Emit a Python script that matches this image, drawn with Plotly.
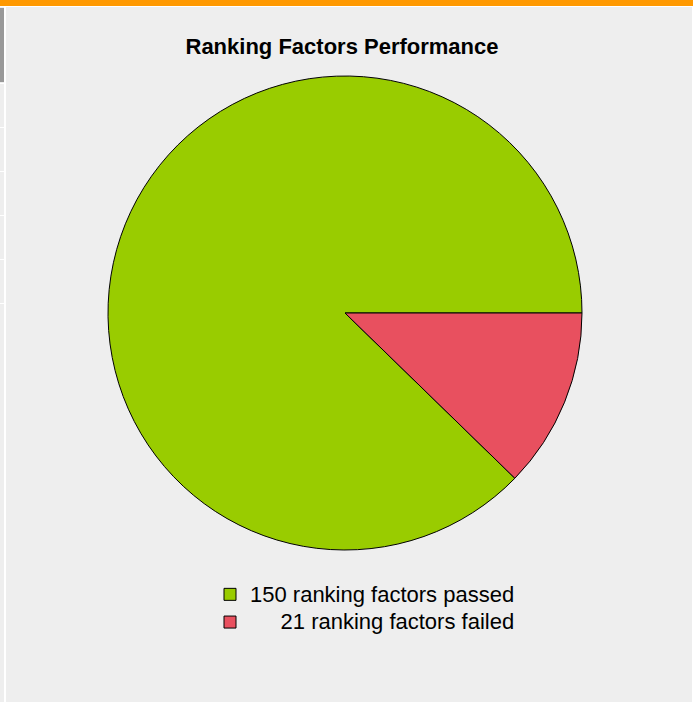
import plotly.graph_objects as go

# Data
categories = ["150 ranking factors passed", "\u00a0" * 5 + "21 ranking factors failed"]
values = [150, 21]
colors = ["#99cc00", "#e8505f"]

W, H = 693, 703

# passed slice ends at 3 o'clock; failed slice follows clockwise below it
start_angle = 90 + 360 * values[1] / sum(values)

legend_labels = ['<span style="font-size:22px">' + c + "</span>" for c in categories]

fig = go.Figure()
fig.add_trace(go.Pie(
    labels=legend_labels,
    values=values,
    sort=False,
    direction="clockwise",
    rotation=start_angle,
    textinfo="none",
    hovertext=categories,
    hoverinfo="text+value",
    marker=dict(colors=colors, line=dict(color="#000000", width=1)),
    domain=dict(x=[108 / W, 582 / W], y=[(H - 550) / H, (H - 76) / H]),
))

shapes = [
    dict(type="rect", xref="paper", yref="paper", x0=0, x1=1, y0=1 - 6 / H, y1=1,
         fillcolor="#ff9900", line=dict(width=0), layer="below"),
    dict(type="rect", xref="paper", yref="paper", x0=0, x1=1, y0=1 - 7 / H, y1=1 - 6 / H,
         fillcolor="#ffffff", line=dict(width=0), layer="below"),
    dict(type="rect", xref="paper", yref="paper", x0=4 / W, x1=6 / W, y0=0, y1=1 - 7 / H,
         fillcolor="#ffffff", line=dict(width=0), layer="below"),
    dict(type="rect", xref="paper", yref="paper", x0=0, x1=4 / W, y0=1 - 82 / H, y1=1 - 8 / H,
         fillcolor="#999999", line=dict(width=0), layer="below"),
    dict(type="rect", xref="paper", yref="paper", x0=1 - 1 / W, x1=1, y0=0, y1=1 - 7 / H,
         fillcolor="#ffffff", line=dict(width=0), layer="below"),
    dict(type="rect", xref="paper", yref="paper", x0=0, x1=1, y0=0, y1=1 / H,
         fillcolor="#ffffff", line=dict(width=0), layer="below"),
]
for yy in [83, 127, 171, 215, 259, 303]:
    shapes.append(dict(type="rect", xref="paper", yref="paper", x0=0, x1=4 / W,
                       y0=1 - (yy + 1) / H, y1=1 - yy / H,
                       fillcolor="#ffffff", line=dict(width=0), layer="below"))

fig.update_layout(
    width=W, height=H,
    margin=dict(l=0, r=0, t=0, b=0),
    paper_bgcolor="#eeeeee",
    plot_bgcolor="#eeeeee",
    font=dict(family="Liberation Sans, Arial, sans-serif", color="#000000"),
    title=dict(text="<b>Ranking Factors Performance</b>", x=342 / W, xanchor="center",
               y=1 - 46 / H, yanchor="middle",
               font=dict(size=22, family="Liberation Sans, Arial, sans-serif", color="#000000")),
    showlegend=True,
    legend=dict(x=210 / W, xanchor="left", y=1 - 575.5 / H, yanchor="top",
                bgcolor="rgba(0,0,0,0)", font=dict(size=19, color="#000000"),
                traceorder="normal"),
    shapes=shapes,
)

fig.write_html("out.html", config={"displayModeBar": False},
               post_script="document.body.style.margin='0';")
